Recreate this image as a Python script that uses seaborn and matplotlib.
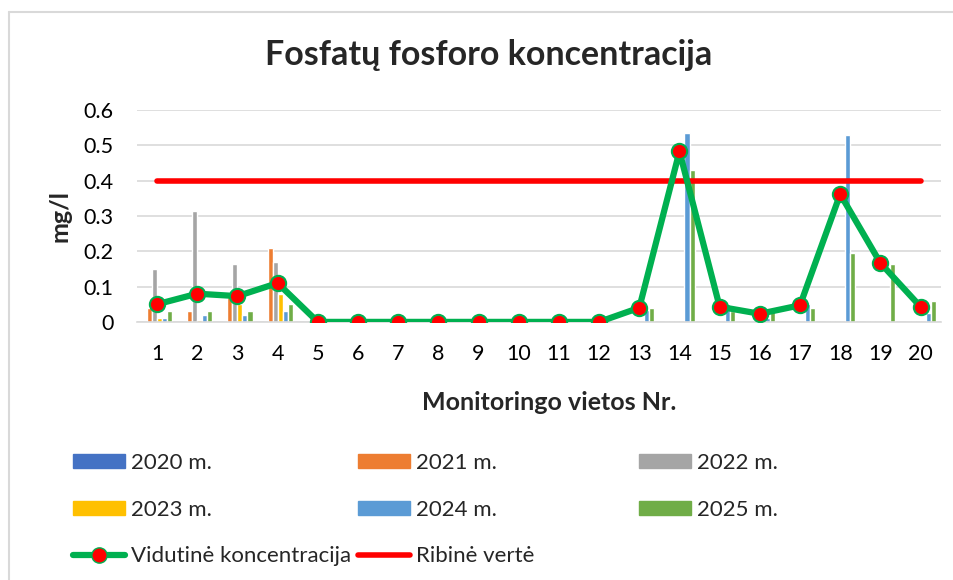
import numpy as np
import pandas as pd
import seaborn as sns
import matplotlib
matplotlib.use("Agg")
import matplotlib.pyplot as plt
from matplotlib.patches import Patch
from matplotlib.lines import Line2D

# Duomenys (nuskaityti nuo paveikslo)
vietos = [str(i) for i in range(1, 21)]
metai = ["2020 m.", "2021 m.", "2022 m.", "2023 m.", "2024 m.", "2025 m."]

m2020 = [0] * 20
m2021 = [0.04, 0.03, 0.07, 0.21] + [0] * 16
m2022 = [0.15, 0.315, 0.165, 0.17] + [0] * 16
m2023 = [0.01, 0.005, 0.05, 0.08] + [0] * 16
m2024 = [0.01, 0.02, 0.02, 0.03] + [0] * 8 + [0.035, 0.535, 0.05, 0.01, 0.05, 0.53, 0, 0.025]
m2025 = [0.03, 0.03, 0.03, 0.05] + [0] * 8 + [0.04, 0.43, 0.03, 0.03, 0.04, 0.195, 0.165, 0.06]

vidutine = [0.05, 0.08, 0.073, 0.11, 0, 0, 0, 0, 0, 0, 0, 0,
            0.04, 0.483, 0.043, 0.023, 0.047, 0.362, 0.167, 0.043]
ribine = [0.4] * 20

spalvos = ["#4472C4", "#ED7D31", "#A5A5A5", "#FFC000", "#5B9BD5", "#70AD47"]

# Long formatas seaborn'ui
rows = []
for met, vals in zip(metai, [m2020, m2021, m2022, m2023, m2024, m2025]):
    for v, val in zip(vietos, vals):
        rows.append({"Vieta": v, "Metai": met, "Reiksme": val})
data = pd.DataFrame(rows)

sns.set_style("white")
plt.rcParams["font.family"] = ["Lato", "DejaVu Sans"]

fig = plt.figure(figsize=(9.54, 5.8), dpi=100)
ax = fig.add_axes([0.1436, 0.445, 0.8424, 0.365])

sns.barplot(data=data, x="Vieta", y="Reiksme", hue="Metai", order=vietos,
            hue_order=metai, palette=spalvos, width=0.75, gap=0,
            saturation=1, ax=ax, legend=False, zorder=2)

pos = np.arange(len(vietos))
ax.plot(pos, ribine, color="#FF0000", lw=4, solid_capstyle="round", zorder=3)
ax.plot(pos, vidutine, color="#00B050", lw=4.5, marker="o", markersize=11,
        markerfacecolor="#FF0000", markeredgecolor="#00B050",
        markeredgewidth=1.5, zorder=4)

ax.set_ylim(0, 0.6)
ax.set_xlim(-0.5, 19.5)
ax.set_yticks([0, 0.1, 0.2, 0.3, 0.4, 0.5, 0.6])
ax.set_yticklabels(["0", "0.1", "0.2", "0.3", "0.4", "0.5", "0.6"])
ax.yaxis.grid(True, color="#D9D9D9", lw=1.2, zorder=0)
ax.set_axisbelow(True)
for s in ["top", "right", "left"]:
    ax.spines[s].set_visible(False)
ax.spines["bottom"].set_color("#D9D9D9")
ax.spines["bottom"].set_linewidth(1.2)
ax.tick_params(axis="both", length=0, labelsize=15.5, colors="black")
ax.tick_params(axis="x", pad=16)
ax.tick_params(axis="y", pad=17)

ax.set_xlabel("Monitoringo vietos Nr.", fontsize=18, fontweight="bold")
ax.set_ylabel("mg/l", fontsize=18, fontweight="bold")
ax.xaxis.set_label_coords(0.513, -0.325)
ax.yaxis.set_label_coords(-0.082, 0.5)
fig.text(0.5126, 0.905, "Fosfatų fosforo koncentracija", fontsize=24.5,
         fontweight="bold", ha="center", va="center")

# Legenda - trys stulpeliai kaip Excel'yje
h = [Patch(color=c) for c in spalvos]
h_vid = Line2D([], [], color="#00B050", lw=4.5, marker="o", markersize=11,
               markerfacecolor="#FF0000", markeredgecolor="#00B050")
h_rib = Line2D([], [], color="#FF0000", lw=4, solid_capstyle="round")
stulpeliai = [
    ([h[0], h[3], h_vid], [metai[0], metai[3], "Vidutinė koncentracija"], 73),
    ([h[1], h[4], h_rib], [metai[1], metai[4], "Ribinė vertė"], 358),
    ([h[2], h[5]], [metai[2], metai[5]], 639),
]
for hh, ll, xpx in stulpeliai:
    fig.legend(hh, ll, loc="upper left", bbox_to_anchor=(xpx / 954, 1 - 453 / 580),
               frameon=False, fontsize=16, handlelength=2.35, handleheight=0.6,
               handletextpad=0.25, labelspacing=1.2, borderpad=0, borderaxespad=0)

# Ramelis
fig.add_artist(Line2D([9 / 954, 1], [1 - 12 / 580, 1 - 12 / 580], color="#D9D9D9", lw=1.5))
fig.add_artist(Line2D([9 / 954, 9 / 954], [0, 1 - 12 / 580], color="#D9D9D9", lw=1.5))

fig.savefig("out.png", dpi=100)
